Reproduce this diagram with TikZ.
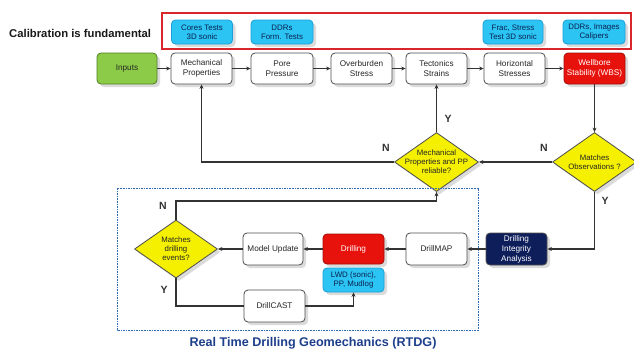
\documentclass[tikz,border=0pt]{standalone}
\usepackage{fontspec}
\setmainfont{Liberation Sans}
\usetikzlibrary{arrows.meta,shapes.geometric,shadows}
\definecolor{linegray}{HTML}{4D4D4D}
\definecolor{darkline}{HTML}{333333}
\definecolor{yellowd}{HTML}{F4F000}
\definecolor{cyanfill}{HTML}{2BC4F3}
\definecolor{cyandraw}{HTML}{1A9FDA}
\definecolor{navytext}{HTML}{0B2150}
\definecolor{redbox}{HTML}{E8120C}
\definecolor{navybox}{HTML}{0E1E5B}
\definecolor{greenbox}{HTML}{8CCB47}
\definecolor{greendraw}{HTML}{4F7F25}
\definecolor{titleblue}{HTML}{1D3F8C}
\definecolor{framered}{HTML}{D9262B}
\definecolor{dashblue}{HTML}{2F6CB5}
\newcommand\dtext[1]{\makebox[0pt]{\parbox[c]{100pt}{\centering\fontsize{7.8}{9.2}\selectfont #1}}}
\begin{document}
\begin{tikzpicture}[x=1pt,y=-1pt,
  box/.style={draw=linegray, line width=0.8pt, rounded corners=4pt, fill=white,
    minimum width=61pt, minimum height=31pt, inner sep=1pt, align=center,
    font=\fontsize{8.2}{10}\selectfont, text=black!85,
    drop shadow={opacity=0.28, shadow xshift=3pt, shadow yshift=-3pt}},
  cyanbox/.style={box, fill=cyanfill, draw=cyandraw, minimum height=24pt, text=navytext,
    font=\fontsize{7.9}{9.2}\selectfont},
  decision/.style={diamond, draw=linegray, line width=0.8pt, fill=yellowd,
    minimum width=84pt, minimum height=59pt, inner sep=0pt, text=black!85,
    drop shadow={opacity=0.28, shadow xshift=3pt, shadow yshift=-3pt}},
  conn/.style={draw=darkline, line width=1.2pt, -{Stealth[length=4.5pt,width=4pt]}},
  plainline/.style={draw=darkline, line width=1.2pt},
  lbl/.style={font=\fontsize{10.5}{11}\selectfont\bfseries, text=darkline, inner sep=0pt}
]
\useasboundingbox (0,0) rectangle (634,349);
\fill[white] (0,0) rectangle (634,349);

% calibration frame
\node[anchor=west, inner sep=0pt, font=\fontsize{11.3}{12}\selectfont\bfseries, text=black!90] (calib) at (9,33) {Calibration is fundamental};
\draw[framered, line width=1.1pt] (162,13) rectangle (631,49);
\node[cyanbox] (cores) at (202,32) {Cores Tests\\3D sonic};
\node[cyanbox, minimum width=62pt] (ddrs1) at (282,32) {DDRs\\Form. Tests};
\node[cyanbox, minimum width=60pt] (frac) at (513,32) {Frac, Stress\\Test 3D sonic};
\node[cyanbox, minimum width=62pt] (ddrs2) at (594,32) {DDRs, Images\\Calipers};

% main row
\node[box, fill=greenbox, draw=greendraw, minimum width=60pt] (inputs) at (127,68.5) {Inputs};
\node[box] (mech) at (201.5,68.5) {Mechanical\\Properties};
\node[box, minimum width=62pt] (pore) at (282,68.5) {Pore\\Pressure};
\node[box] (overb) at (361.5,68.5) {Overburden\\Stress};
\node[box] (tect) at (436.5,68.5) {Tectonics\\Strains};
\node[box] (horiz) at (514.5,68.5) {Horizontal\\Stresses};
\node[box, fill=redbox, draw=redbox!70!black, text=white] (wbs) at (594.5,68.5) {Wellbore\\Stability (WBS)};

\draw[conn] (inputs.east) -- (mech.west);
\draw[conn] (mech.east) -- (pore.west);
\draw[conn] (pore.east) -- (overb.west);
\draw[conn] (overb.east) -- (tect.west);
\draw[conn] (tect.east) -- (horiz.west);
\draw[conn] (horiz.east) -- (wbs.west);

% decisions
\node[decision] (d1) at (436.5,162) {\dtext{Mechanical\\Properties and PP\\reliable?}};
\node[decision] (d2) at (594.5,162) {\dtext{Matches\\Observations ?}};

\draw[conn] (wbs.south) -- (d2.north);
\draw[conn] (d2.west) -- (d1.east);
\draw[conn] (d1.west) -| (mech.south);
\draw[conn] (d1.north) -- (tect.south);

\node[lbl] (n1) at (386,148) {N};
\node[lbl] (n2) at (544,148) {N};
\node[lbl] (y1) at (448,119) {Y};
\node[lbl] (y2) at (605,201) {Y};

% RTDG frame
\draw[dashblue, line width=1pt, dash pattern=on 1.6pt off 1pt] (117,188) rectangle (478,330);
\node[anchor=base, inner sep=0pt, font=\fontsize{12.6}{14}\selectfont\bfseries, text=titleblue] (rtdg) at (313,346) {Real Time Drilling Geomechanics (RTDG)};

\node[box, fill=navybox, draw=linegray, text=white, minimum height=32pt] (dia) at (516.5,249) {Drilling\\Integrity\\Analysis};
\node[box, minimum height=32pt] (drillmap) at (436.5,249) {DrillMAP};
\node[box, fill=redbox, draw=redbox!70!black, text=white, minimum height=30pt] (drilling) at (353.5,249) {Drilling};
\node[cyanbox, minimum height=24pt] (lwd) at (353.5,280) {LWD (sonic),\\PP, Mudlog};
\node[box, minimum width=60pt, minimum height=32pt] (model) at (273,249) {Model Update};
\node[decision, minimum width=83pt, minimum height=58pt] (d3) at (176,249) {\dtext{Matches\\drilling\\events?}};
\node[box, minimum height=32pt] (drillcast) at (274.5,306) {DrillCAST};

\draw[conn] (d2.south) |- (dia.east);
\draw[conn] (dia.west) -- (drillmap.east);
\draw[conn] (drillmap.west) -- (drilling.east);
\draw[conn] (drilling.west) -- (model.east);
\draw[conn] (model.west) -- (d3.east);
\coordinate (nbend) at (176,201);
\draw[conn] (d3.north) -- (nbend) -| (d1.south);
\draw[plainline] (d3.south) |- (drillcast.west);
\draw[conn] (drillcast.east) -| (lwd.south);

\node[lbl] (n3) at (163,206) {N};
\node[lbl] (y3) at (164,290) {Y};
\end{tikzpicture}
\end{document}
